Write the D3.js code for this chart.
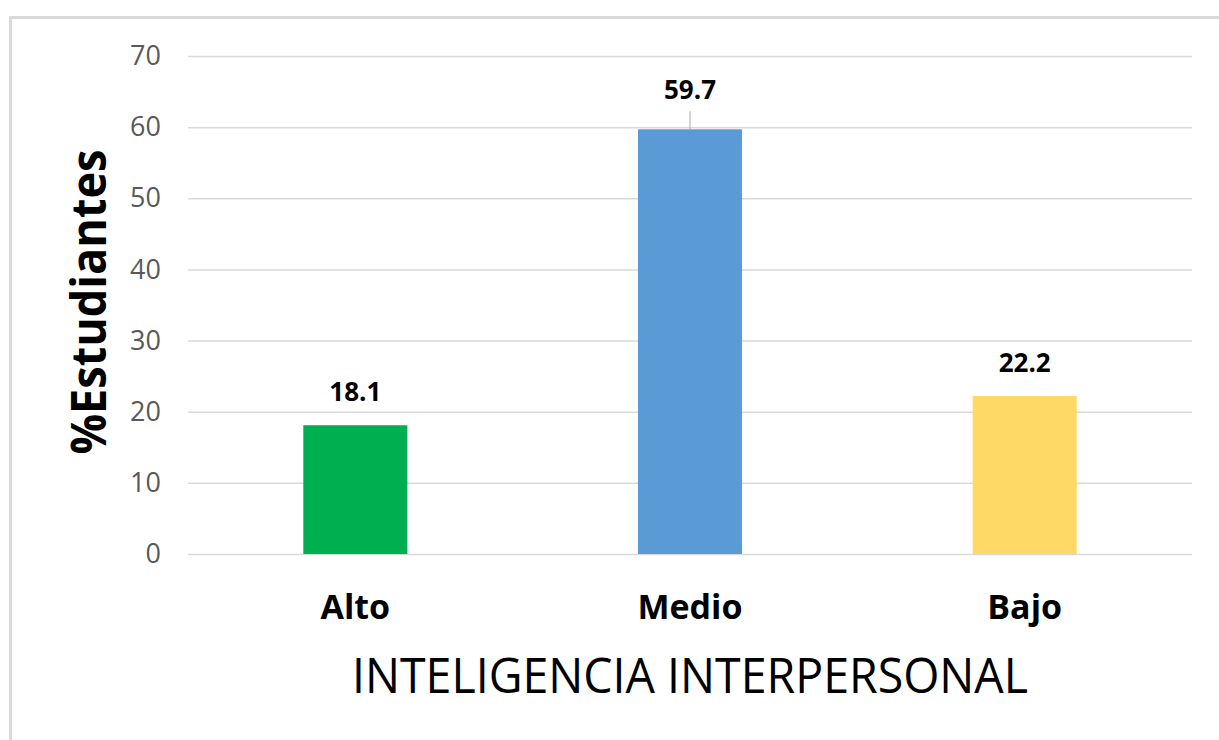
<!DOCTYPE html>
<html>
<head>
<meta charset="utf-8">
<script src="https://cdnjs.cloudflare.com/ajax/libs/d3/7.8.5/d3.min.js"></script>
<style>
  body { margin: 0; background: #fff; }
  svg { display: block; font-family: "Open Sans", sans-serif; }
</style>
</head>
<body>
<svg width="1219" height="740"></svg>
<script>
var categories = ["Alto", "Medio", "Bajo"];
var values = [18.1, 59.7, 22.2];
var barColors = ["#00b050", "#5b9bd5", "#ffd966"];
var yTicks = [0, 10, 20, 30, 40, 50, 60, 70];

var svg = d3.select("svg");
var margin = {top: 56, right: 27, bottom: 186, left: 188};
var width = 1219 - margin.left - margin.right;
var height = 740 - margin.top - margin.bottom;

// outer frame (right and bottom edges fall outside the window)
svg.append("rect")
  .attr("x", 10.5).attr("y", 17.5)
  .attr("width", 1250).attr("height", 800)
  .attr("fill", "none")
  .attr("stroke", "#d9d9d9")
  .attr("stroke-width", 3);

var g = svg.append("g").attr("transform", "translate(" + margin.left + "," + margin.top + ")");

var x = d3.scaleBand()
  .domain(categories)
  .range([0, width])
  .paddingInner(0.689)
  .paddingOuter(0.3445);

var y = d3.scaleLinear()
  .domain([0, 70])
  .range([height, 0]);

// gridlines + tick labels
var yAxis = g.append("g")
  .call(d3.axisLeft(y).tickValues(yTicks).tickSize(-width).tickPadding(27));
yAxis.select(".domain").remove();
yAxis.selectAll(".tick line").attr("stroke", "#d9d9d9").attr("stroke-width", 1.5);
yAxis.selectAll(".tick text")
  .attr("fill", "#595959")
  .style("font-size", "27px")
  .style("font-family", "'Open Sans', sans-serif");

// bars
g.selectAll(".bar")
  .data(values)
  .enter().append("rect")
  .attr("class", "bar")
  .attr("x", function(d, i) { return x(categories[i]); })
  .attr("y", function(d) { return y(d); })
  .attr("width", x.bandwidth())
  .attr("height", function(d) { return height - y(d); })
  .attr("fill", function(d, i) { return barColors[i]; });

// value labels (the tallest one sits higher, with a leader line)
var maxI = values.indexOf(d3.max(values));
var lift = function(d, i) { return i === maxI ? 30 : 24; };
g.selectAll(".val")
  .data(values)
  .enter().append("text")
  .attr("class", "val")
  .attr("x", function(d, i) { return x(categories[i]) + x.bandwidth() / 2; })
  .attr("y", function(d, i) { return y(d) - lift(d, i); })
  .attr("text-anchor", "middle")
  .style("font-size", "26px")
  .style("font-weight", "bold")
  .attr("fill", "#000")
  .text(function(d) { return d.toFixed(1); });

g.append("line")
  .attr("x1", x(categories[maxI]) + x.bandwidth() / 2)
  .attr("x2", x(categories[maxI]) + x.bandwidth() / 2)
  .attr("y1", y(values[maxI]) - 18)
  .attr("y2", y(values[maxI]))
  .attr("stroke", "#a6a6a6")
  .attr("stroke-width", 1);

// category labels
g.selectAll(".cat")
  .data(categories)
  .enter().append("text")
  .attr("class", "cat")
  .attr("x", function(d) { return x(d) + x.bandwidth() / 2; })
  .attr("y", height + 65)
  .attr("text-anchor", "middle")
  .style("font-size", "34px")
  .style("font-weight", "bold")
  .attr("fill", "#000")
  .text(function(d) { return d; });

// axis titles
svg.append("text")
  .attr("x", margin.left + width / 2)
  .attr("y", 693)
  .attr("text-anchor", "middle")
  .attr("textLength", 676)
  .attr("lengthAdjust", "spacingAndGlyphs")
  .style("font-size", "49px")
  .attr("fill", "#000")
  .text("INTELIGENCIA INTERPERSONAL");

svg.append("text")
  .attr("transform", "translate(106,302) rotate(-90)")
  .attr("text-anchor", "middle")
  .attr("textLength", 305)
  .attr("lengthAdjust", "spacingAndGlyphs")
  .style("font-size", "49px")
  .style("font-weight", "bold")
  .attr("fill", "#000")
  .text("%Estudiantes");
</script>
</body>
</html>
